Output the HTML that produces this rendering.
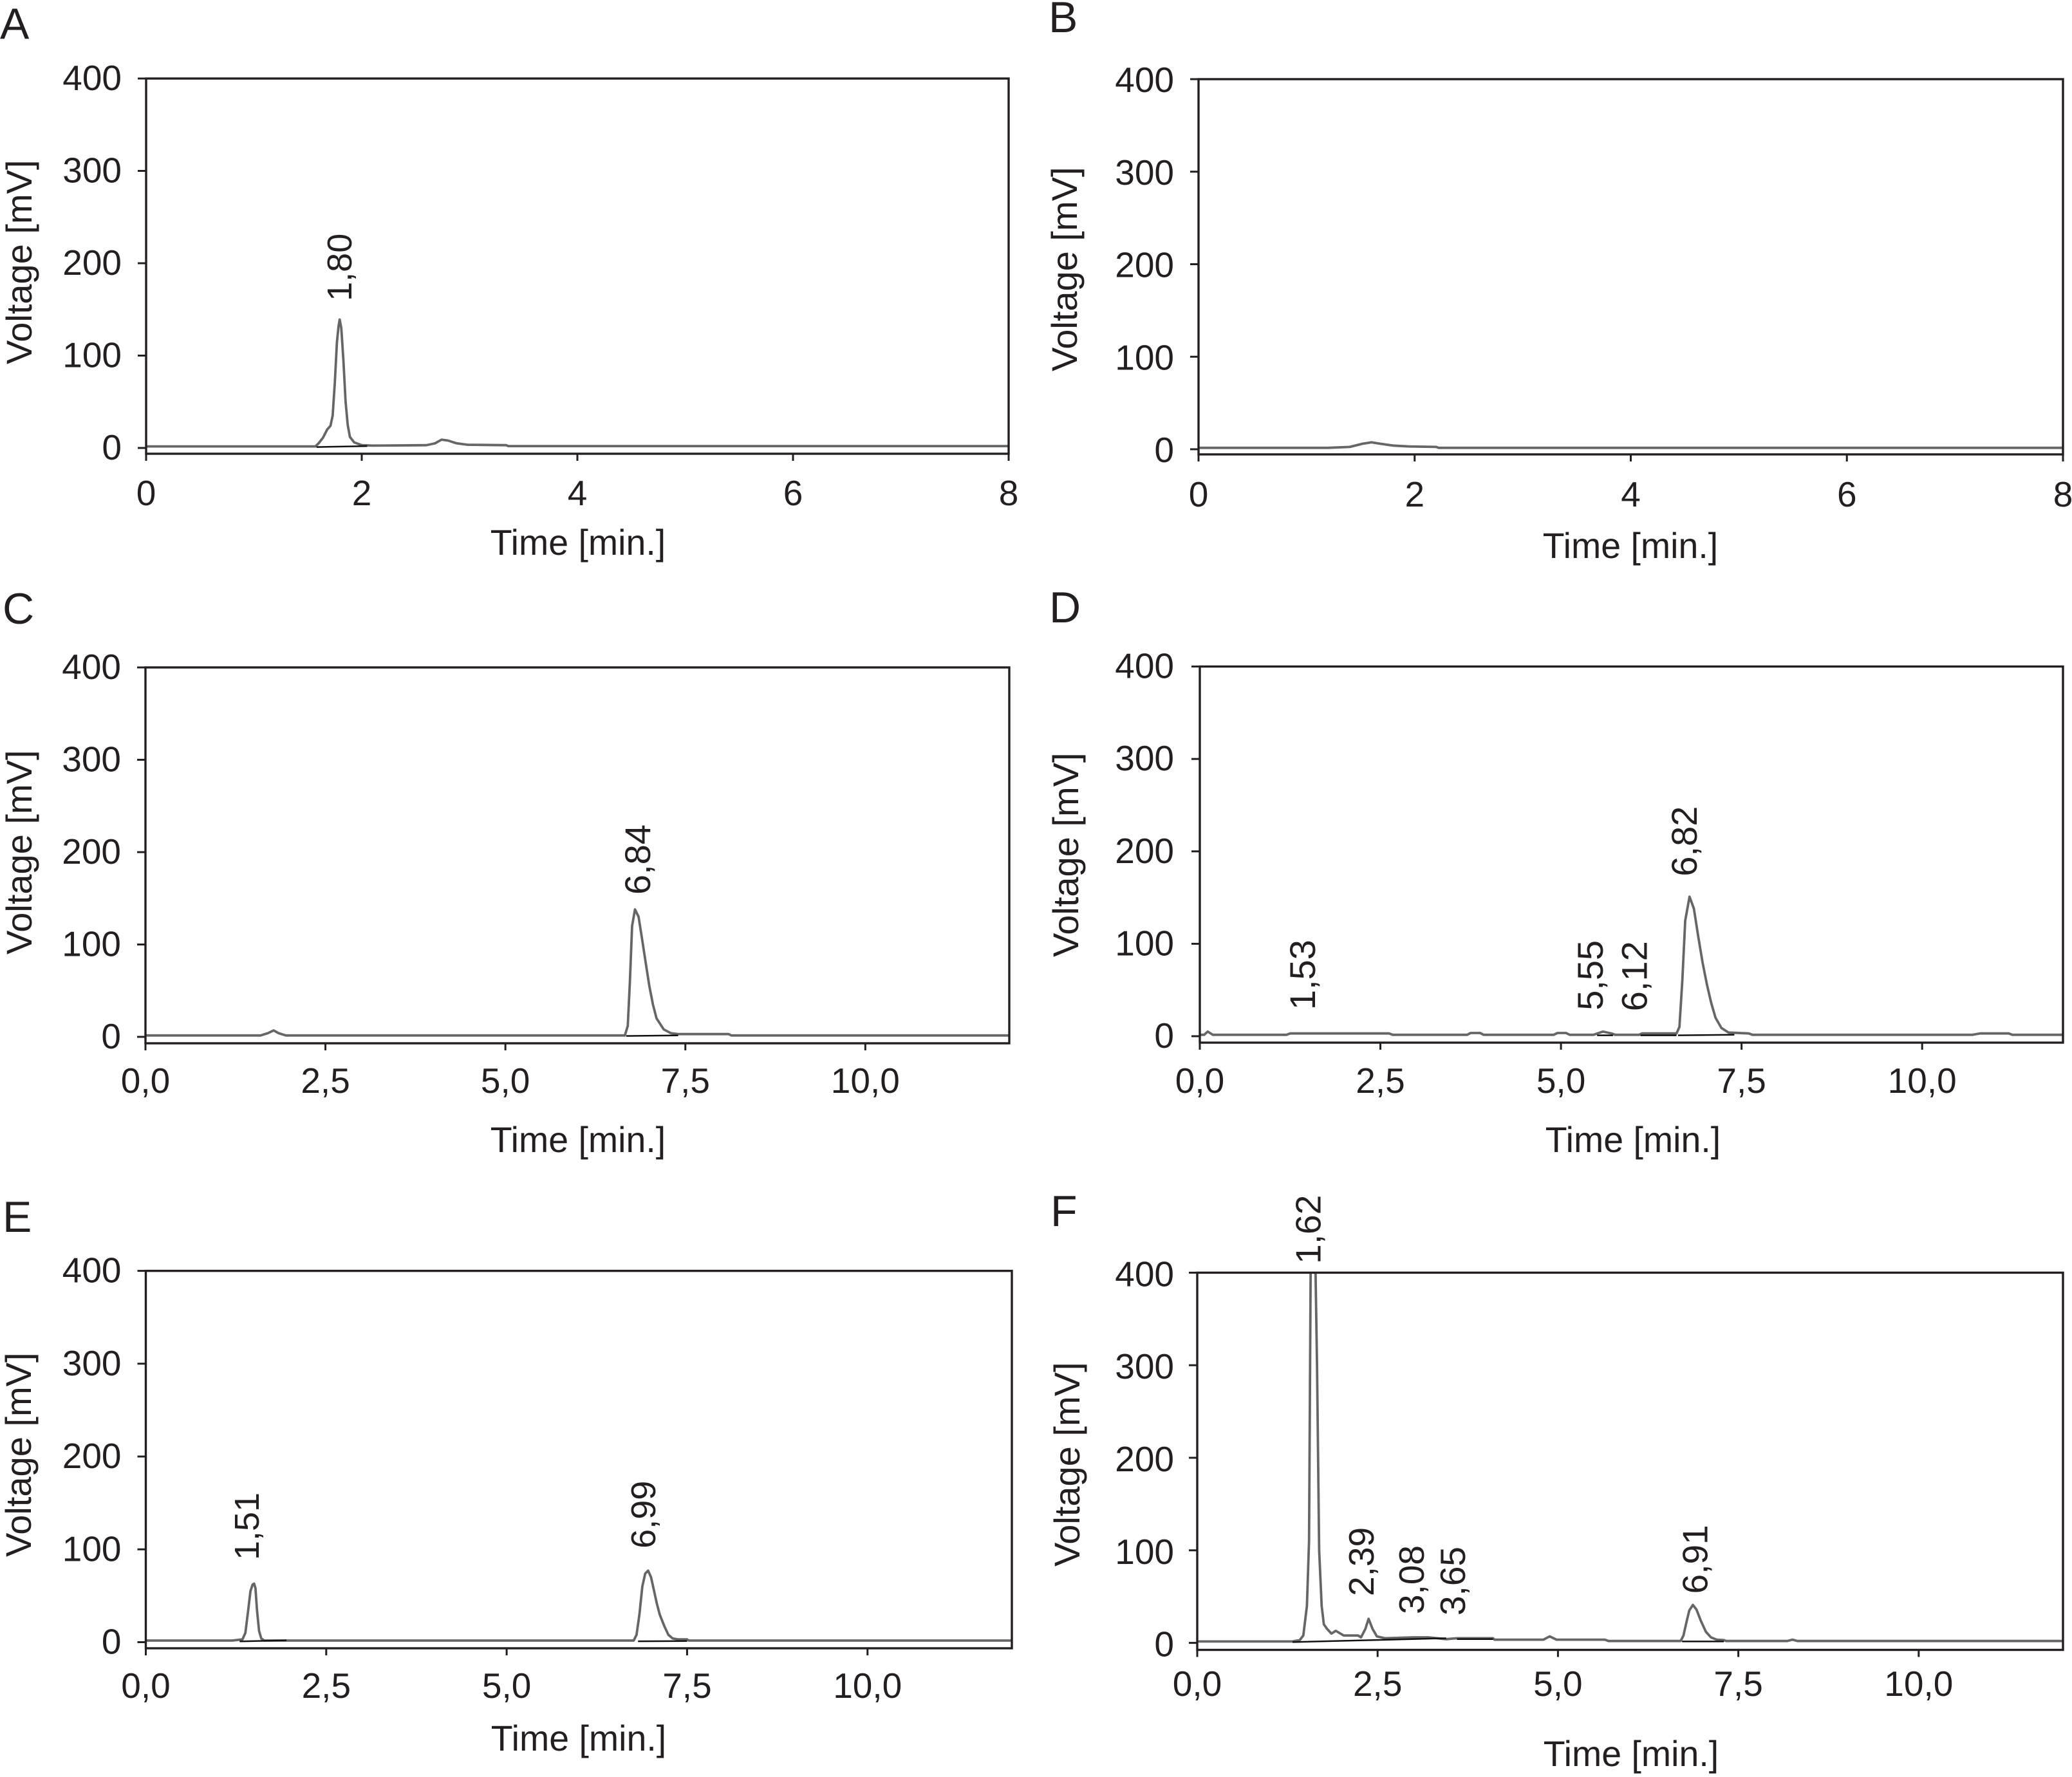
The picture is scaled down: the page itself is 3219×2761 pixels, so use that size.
<!DOCTYPE html>
<html lang="en">
<head>
<meta charset="utf-8">
<title>Chromatograms A–F</title>
<style>
html,body{margin:0;padding:0;background:#fff;}
svg{display:block;}
text{font-family:"Liberation Sans",Arial,sans-serif;fill:#231f20;}
</style>
</head>
<body>
<svg id="chart" xmlns="http://www.w3.org/2000/svg" width="3219" height="2761" viewBox="0 0 3219 2761"></svg>
<script>
// ---- data: time [min], voltage [mV] ----
const panelATimes = [0,1.57,1.6,1.64,1.68,1.71,1.73,1.75,1.77,1.785,1.795,1.81,1.83,1.85,1.87,1.89,1.93,2,2.1,2.6,2.68,2.74,2.8,2.88,2.98,3.34,3.36,8];
const panelAVolts = [1.7,1.7,5,11,20,24,35,70,115,132,139,130,95,50,25,12,6,3,2.5,3,5,9,8,5,3.5,3,2,2];
const panelAPeakTimes = [1.904];
const panelAPeakLevels = [159];
const panelAPeakLabels = ["1,80"];
const panelABaseTimes = [1.58,2.05];
const panelABaseVolts = [1,2];

const panelBTimes = [0,1.2,1.4,1.52,1.6,1.68,1.8,1.95,2.2,2.22,8];
const panelBVolts = [1.5,1.5,2.5,6,7.5,6,4,3,2.5,1.5,1.5];
const panelBPeakTimes = [];
const panelBPeakLevels = [];
const panelBPeakLabels = [];
const panelBBaseTimes = [];
const panelBBaseVolts = [];

const panelCTimes = [0,1.6,1.7,1.78,1.85,1.95,6.66,6.7,6.73,6.76,6.8,6.85,6.9,6.95,7,7.05,7.1,7.2,7.3,7.4,8.1,8.14,12];
const panelCVolts = [1.5,1.5,4,7,4,1.5,1.5,12,60,120,138,130,105,80,55,35,20,8,4,3,3,1.5,1.5];
const panelCPeakTimes = [7.01];
const panelCPeakLevels = [154];
const panelCPeakLabels = ["6,84"];
const panelCBaseTimes = [6.68,7.4];
const panelCBaseVolts = [1,1.5];

const panelDTimes = [0,0.06,0.11,0.18,1.2,1.25,2.62,2.67,3.7,3.75,3.88,3.93,4.9,4.95,5.07,5.12,5.45,5.58,5.7,5.75,6.08,6.12,6.6,6.64,6.68,6.72,6.78,6.84,6.9,6.96,7.02,7.08,7.14,7.22,7.32,7.6,7.65,10.7,10.8,11.2,11.25,11.95];
const panelDVolts = [1.5,1.5,5,1.5,1.5,3,3,1.5,1.5,3.5,3.5,1.5,1.5,3.5,3.5,1.5,1.5,5,3,1.5,1.5,3,3,10,60,125,151,138,108,80,56,36,20,9,4,3,1.5,1.5,3,3,1.5,1.5];
const panelDPeakTimes = [1.595,5.58,6.19,6.88];
const panelDPeakLevels = [28.5,28,27,173];
const panelDPeakLabels = ["1,53","5,55","6,12","6,82"];
const panelDBaseTimes = [5.5,5.72,null,6.1,6.6,null,6.62,7.4];
const panelDBaseVolts = [1,1,null,1,1,null,1,1.5];

const panelETimes = [0,1.2,1.34,1.38,1.42,1.45,1.48,1.5,1.52,1.54,1.57,1.6,1.64,6.76,6.8,6.84,6.88,6.92,6.96,7,7.04,7.08,7.12,7.18,7.24,7.3,7.38,7.5,7.52,12];
const panelEVolts = [1.7,1.7,3,10,35,55,62,63,58,35,12,4,1.7,1.7,8,30,60,74,77,70,56,42,30,18,8,4,3,3,1.7,1.7];
const panelEPeakTimes = [1.566,7.06];
const panelEPeakLevels = [88.4,101];
const panelEPeakLabels = ["1,51","6,99"];
const panelEBaseTimes = [1.3,1.95,null,6.82,7.5];
const panelEBaseVolts = [0.8,2,null,1,1.2];

const panelFTimes = [0,1.32,1.42,1.47,1.52,1.55,1.575,1.625,1.64,1.66,1.69,1.725,1.755,1.8,1.86,1.92,2.03,2.23,2.27,2.33,2.375,2.43,2.49,2.6,3,3.2,3.45,3.6,4.1,4.12,4.8,4.885,4.98,5.65,5.7,6.7,6.74,6.78,6.82,6.87,6.92,6.98,7.05,7.12,7.2,7.3,7.33,8.18,8.25,8.32,12];
const panelFVolts = [1.5,1.5,3,8,40,110,440,440,400,300,100,40,20,15,10,13,8,8,6,15,26,15,7,5,6,6,4,5,5,3.5,3.5,7,3.5,3.5,2,2,8,22,35,41,36,24,12,6,3.5,3,2,2,3.5,2,2];
const panelFPeakTimes = [1.71,2.446,3.14,3.71,7.07];
const panelFPeakLevels = [409.5,50.5,31,29.6,53];
const panelFPeakLabels = ["1,62","2,39","3,08","3,65","6,91"];
const panelFBaseTimes = [1.32,3.45,null,3.6,4.1,null,6.72,7.3];
const panelFBaseVolts = [0.8,5,null,4,4,null,1.5,1.5];

const yTickValues = [0,100,200,300,400];
const xTicksShort = [0,2,4,6,8];
const xTickLabelsShort = ["0","2","4","6","8"];
const xTicksLong = [0,2.5,5,7.5,10];
const xTickLabelsLong = ["0,0","2,5","5,0","7,5","10,0"];

// ---- panel layout (pixels) ----
const panels = [
 {id:'a',letter:'A',lx:0,ly:60,left:227,right:1567,top:122,y0:696,bottom:705,xMax:8,ticks:xTicksShort,tickLabels:xTickLabelsShort,tickBase:785,titleBase:862,titleX:898,yBase:49,yStart:566,labelFont:54,yLabelDx:0,yLabelDy:0,
  t:panelATimes,v:panelAVolts,pt:panelAPeakTimes,pv:panelAPeakLevels,pl:panelAPeakLabels,bt:panelABaseTimes,bv:panelABaseVolts},
 {id:'b',letter:'B',lx:1629,ly:50,left:1862,right:3205,top:123,y0:698,bottom:706,xMax:8,ticks:xTicksShort,tickLabels:xTickLabelsShort,tickBase:787,titleBase:867,titleX:2533,yBase:1673,yStart:577,labelFont:54,yLabelDx:0,yLabelDy:2,
  t:panelBTimes,v:panelBVolts,pt:panelBPeakTimes,pv:panelBPeakLevels,pl:panelBPeakLabels,bt:panelBBaseTimes,bv:panelBBaseVolts},
 {id:'c',letter:'C',lx:4,ly:969,left:226,right:1568,top:1037,y0:1611,bottom:1621,xMax:12,ticks:xTicksLong,tickLabels:xTickLabelsLong,tickBase:1698,titleBase:1790,titleX:898,yBase:49,yStart:1483,labelFont:56,yLabelDx:0,yLabelDy:0,
  t:panelCTimes,v:panelCVolts,pt:panelCPeakTimes,pv:panelCPeakLevels,pl:panelCPeakLabels,bt:panelCBaseTimes,bv:panelCBaseVolts},
 {id:'d',letter:'D',lx:1630,ly:967,left:1864,right:3205,top:1035.6,y0:1610,bottom:1620,xMax:11.95,ticks:xTicksLong,tickLabels:xTickLabelsLong,tickBase:1698,titleBase:1790,titleX:2537,yBase:1675,yStart:1487,labelFont:56,yLabelDx:-2,yLabelDy:0,
  t:panelDTimes,v:panelDVolts,pt:panelDPeakTimes,pv:panelDPeakLevels,pl:panelDPeakLabels,bt:panelDBaseTimes,bv:panelDBaseVolts},
 {id:'e',letter:'E',lx:4,ly:1914,left:226.5,right:1572,top:1974.6,y0:2551.5,bottom:2561,xMax:12,ticks:xTicksLong,tickLabels:xTickLabelsLong,tickBase:2638,titleBase:2720,titleX:899,yBase:48,yStart:2419,labelFont:54,yLabelDx:0,yLabelDy:0,
  t:panelETimes,v:panelEVolts,pt:panelEPeakTimes,pv:panelEPeakLevels,pl:panelEPeakLabels,bt:panelEBaseTimes,bv:panelEBaseVolts},
 {id:'f',letter:'F',lx:1632,ly:1905,left:1860,right:3205,top:1977.4,y0:2552.6,bottom:2563.5,xMax:12,ticks:xTicksLong,tickLabels:xTickLabelsLong,tickBase:2635,titleBase:2744,titleX:2534,yBase:1677,yStart:2434,labelFont:55,yLabelDx:2,yLabelDy:3,
  t:panelFTimes,v:panelFVolts,pt:panelFPeakTimes,pv:panelFPeakLevels,pl:panelFPeakLabels,bt:panelFBaseTimes,bv:panelFBaseVolts}
];

const NS = 'http://www.w3.org/2000/svg';
const svg = document.getElementById('chart');
const INK = '#231f20';

function mk(tag, parent, attrs, content){
  const el = document.createElementNS(NS, tag);
  for (const k in attrs) el.setAttribute(k, attrs[k]);
  if (content !== undefined) el.textContent = content;
  parent.appendChild(el);
  return el;
}
function linePath(ts, vs, x, y){
  let d = '', pen = false;
  ts.forEach((tv, i) => {
    if (tv === null){ pen = false; return; }
    d += (pen ? 'L' : 'M') + x(tv).toFixed(1) + ' ' + y(vs[i]).toFixed(1);
    pen = true;
  });
  return d;
}

panels.forEach(p => {
  const x = t => p.left + t * (p.right - p.left) / p.xMax;
  const y = v => p.y0 - v * (p.y0 - p.top) / 400;

  const g = mk('g', svg, {});
  
  

  const letter = mk('text', g, {x:p.lx, y:p.ly, 'font-size':68}, p.letter);
  
  

  const clip = mk('clipPath', g, {id:'clip-' + p.id});
  mk('rect', clip, {x:p.left, y:p.top, width:p.right - p.left, height:p.bottom - p.top});

  const trace = mk('path', g, {d:linePath(p.t, p.v, x, y), fill:'none', stroke:'#666', 'stroke-width':3.8, 'stroke-linejoin':'round', 'clip-path':'url(#clip-' + p.id + ')'});
  
  

  if (p.bt.length){
    const base = mk('path', g, {d:linePath(p.bt, p.bv, x, y), fill:'none', stroke:'#111', 'stroke-width':2.5});
    
    
  }

  const frame = mk('rect', g, {x:p.left, y:p.top, width:p.right - p.left, height:p.bottom - p.top, fill:'none', stroke:INK, 'stroke-width':3.4});
  
  

  yTickValues.forEach(v => {
    const tick = mk('line', g, {x1:p.left - 13, x2:p.left, y1:y(v), y2:y(v), stroke:INK, 'stroke-width':3});
    
    
    const lab = mk('text', g, {x:p.left - 38 + p.yLabelDx, y:y(v) + 18 + p.yLabelDy, 'font-size':55, 'text-anchor':'end'}, String(v));
    
    
  });

  p.ticks.forEach((t, i) => {
    const tick = mk('line', g, {x1:x(t), x2:x(t), y1:p.bottom, y2:p.bottom + 11, stroke:INK, 'stroke-width':3});
    
    
    const lab = mk('text', g, {x:x(t), y:p.tickBase, 'font-size':55, 'text-anchor':'middle'}, p.tickLabels[i]);
    
    
  });

  const xt = mk('text', g, {x:p.titleX, y:p.titleBase, 'font-size':55.5, 'text-anchor':'middle'}, 'Time [min.]');
  
  

  const yt = mk('text', g, {x:p.yBase, y:p.yStart, 'font-size':56, transform:'rotate(-90 ' + p.yBase + ' ' + p.yStart + ')'}, 'Voltage [mV]');
  
  

  p.pl.forEach((txt, i) => {
    const px = x(p.pt[i]), py = y(p.pv[i]);
    const lab = mk('text', g, {x:px, y:py, 'font-size':p.labelFont, transform:'rotate(-90 ' + px + ' ' + py + ')'}, txt);
    
    
  });
});
</script>
</body>
</html>
